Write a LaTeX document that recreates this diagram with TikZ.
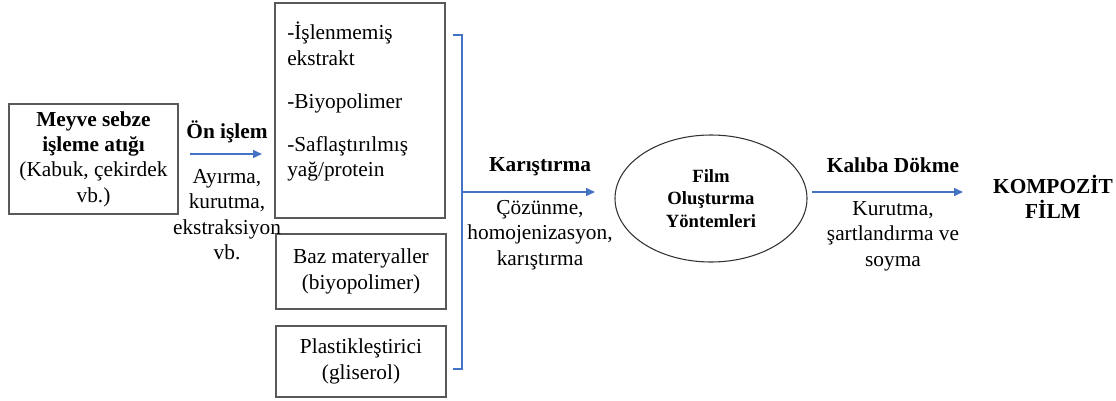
\documentclass[tikz,border=0pt]{standalone}
\usepackage{fontspec}
\setmainfont{LiberationSerif}[Extension=.ttf, UprightFont=*-Regular, BoldFont=*-Bold,
  ItalicFont=*-Italic, BoldItalicFont=*-BoldItalic]
\usetikzlibrary{shapes.geometric,arrows.meta}
\definecolor{okmavi}{HTML}{4472C4}
\definecolor{kutugri}{HTML}{595959}

\begin{document}
\begin{tikzpicture}[x=0.75pt,y=-0.75pt,
  yazi/.style={align=center, inner sep=0pt, font=\fontsize{16}{19}\selectfont},
  kutu/.style={yazi, draw=kutugri, line width=1.1pt},
  ok/.style={okmavi, line width=1.1pt, -{Triangle[length=6.75pt,width=6pt]}},
  kose/.style={okmavi, line width=1.1pt}]
\useasboundingbox (0,0) rectangle (1116,400);

% kutular
\node[kutu, minimum width=126.75pt, minimum height=82.5pt] (atik) at (93.5,159)
  {\textbf{Meyve sebze}\\\textbf{işleme atığı}\\(Kabuk, çekirdek\\vb.)};
\node[kutu, minimum width=127.5pt, minimum height=161.25pt] (ekstre) at (360,110.5) {};
\node[yazi, align=left, anchor=north west] (ekstremetin) at (287,22)
  {-İşlenmemiş\\ekstrakt\\[13.25pt]-Biyopolimer\\[13.25pt]-Saflaştırılmış\\yağ/protein};
\node[kutu, minimum width=127.5pt, minimum height=56.25pt] (baz) at (361,271.5)
  {Baz materyaller\\(biyopolimer)};
\node[kutu, minimum width=127.5pt, minimum height=53.25pt] (plast) at (361,361.5)
  {Plastikleştirici\\(gliserol)};
\node[ellipse, draw=black!80, line width=0.8pt, inner sep=0pt, minimum width=144pt,
  minimum height=95.25pt, align=center, font=\fontsize{14}{17}\selectfont\bfseries]
  (film) at (711,198.5) {Film\\Oluşturma\\Yöntemleri};
\node[yazi, font=\fontsize{16}{19}\selectfont\bfseries] (sonuc) at (1053,197) {KOMPOZİT\\FİLM};

% ok etiketleri
\node[yazi, font=\fontsize{16}{19}\selectfont\bfseries] (onislem) at (227,132) {Ön işlem};
\node[yazi] (onislemalt) at (227,214.5) {Ayırma,\\kurutma,\\ekstraksiyon\\vb.};
\node[yazi, font=\fontsize{16}{19}\selectfont\bfseries] (karistir) at (540,167) {Karıştırma};
\node[yazi] (karistiralt) at (540,235) {Çözünme,\\homojenizasyon,\\karıştırma};
\node[yazi, font=\fontsize{16}{19}\selectfont\bfseries] (kaliba) at (893,165) {Kalıba Dökme};
\node[yazi] (kalibaalt) at (893,236) {Kurutma,\\şartlandırma ve\\soyma};

% oklar
\coordinate (o1a) at (190,154);
\coordinate (o1b) at (262,154);
\coordinate (k1) at (453,35);
\coordinate (k2) at (462,35);
\coordinate (k3) at (462,369);
\coordinate (k4) at (453,369);
\coordinate (o2a) at (462,192);
\coordinate (o2b) at (595,192);
\coordinate (o3a) at (812,192);
\coordinate (o3b) at (963,192);
\draw[ok] (o1a) -- (o1b);
\draw[kose] (k1) -- (k2) -- (k3) -- (k4);
\draw[ok] (o2a) -- (o2b);
\draw[ok] (o3a) -- (o3b);
\end{tikzpicture}
\end{document}
